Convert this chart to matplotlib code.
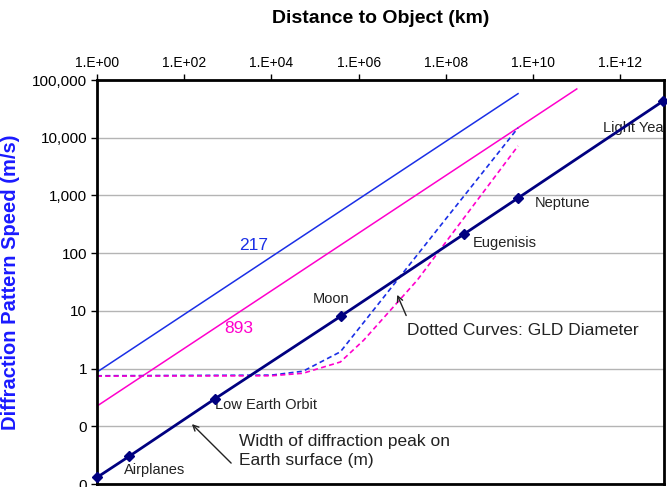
import numpy as np
import matplotlib.pyplot as plt

plt.rcParams['font.family'] = ['Liberation Sans', 'DejaVu Sans']

# distance to object (km) and width of the diffraction peak on earth (m)
objects = ['Start', 'Airplanes', 'Low Earth Orbit', 'Moon', 'Eugenisis', 'Neptune', 'Light Year']
obj_dist = [1, 5.4, 508, 3.9e5, 2.6e8, 4.5e9, 9.46e12]
obj_width = [0.013, 0.030, 0.30, 8.1, 214, 900, 43000]

# pattern speed for the two wavelengths
speed_217_x = [1, 4.5e9]
speed_217_y = [0.87, 58000]
speed_893_x = [1, 1.0e11]
speed_893_y = [0.224, 70000]

# GLD diameter curves
gld_217_x = [1, 1e4, 5.3e4, 3.8e5, 4.5e9]
gld_217_y = [0.75, 0.77, 0.9, 1.95, 14800]
gld_893_x = [1, 1e4, 5.3e4, 3.8e5, 1.3e6, 2.2e7, 4.5e9]
gld_893_y = [0.74, 0.75, 0.83, 1.3, 3.1, 34, 7200]

xticks = [1e0, 1e2, 1e4, 1e6, 1e8, 1e10, 1e12]
xtick_labels = ['1.E+00', '1.E+02', '1.E+04', '1.E+06', '1.E+08', '1.E+10', '1.E+12']
yticks = [0.01, 0.1, 1, 10, 100, 1000, 10000, 100000]
ytick_labels = ['0', '0', '1', '10', '100', '1,000', '10,000', '100,000']

blue = '#1a2fe6'
magenta = '#ff00cc'
navy = '#000080'

fig = plt.figure(figsize=(6.67, 4.87), dpi=100)
ax = fig.add_axes([97 / 667, 3 / 487, 567 / 667, 404 / 487])

ax.plot(speed_217_x, speed_217_y, color=blue, lw=1.1)
ax.plot(speed_893_x, speed_893_y, color=magenta, lw=1.1)
ax.plot(gld_217_x, gld_217_y, color=blue, lw=1.2, ls=(0, (3, 2)))
ax.plot(gld_893_x, gld_893_y, color=magenta, lw=1.2, ls=(0, (3, 2)))
ax.plot(obj_dist, obj_width, color=navy, lw=2, marker='D', ms=5, clip_on=False, zorder=5)

ax.set_xscale('log')
ax.set_yscale('log')
ax.set_xlim(1, 1e13)
ax.set_ylim(0.01, 100000)
ax.minorticks_off()

ax.xaxis.tick_top()
ax.set_xticks(xticks)
ax.set_xticklabels(xtick_labels, fontsize=10)
ax.set_yticks(yticks)
ax.set_yticklabels(ytick_labels, fontsize=11)
ax.tick_params(direction='out', length=4, width=1, pad=3)
ax.grid(axis='y', color='#b4b4b4', lw=1)
ax.set_axisbelow(True)
for s in ax.spines.values():
    s.set_linewidth(2)

ax.set_xlabel('Distance to Object (km)', fontsize=14, fontweight='bold', labelpad=24)
ax.xaxis.set_label_position('top')
ax.set_ylabel('Diffraction Pattern Speed (m/s)', fontsize=14.5, fontweight='bold',
              color='#1a1aff')
ax.yaxis.set_label_coords(-0.135, 0.5)

# point labels
lab = dict(fontsize=10.5, color='#222222', va='center')
ax.text(4.2, 0.0174, 'Airplanes', ha='left', **lab)
ax.text(510, 0.233, 'Low Earth Orbit', ha='left', **lab)
ax.text(2.3e5, 16, 'Moon', ha='center', **lab)
ax.text(4.2e8, 150, 'Eugenisis', ha='left', **lab)
ax.text(1.1e10, 740, 'Neptune', ha='left', **lab)
ax.text(4e11, 14700, 'Light Year', ha='left', clip_on=True, **lab)

ax.text(3800, 138, '217', color=blue, fontsize=12.5, ha='center', va='center')
ax.text(1800, 5.0, '893', color=magenta, fontsize=12.5, ha='center', va='center')

ax.annotate('', xy=(7.2e6, 21), xytext=(1.3e7, 7.5),
            arrowprops=dict(arrowstyle='->', color='#222222', lw=1))
ax.text(1.3e7, 4.6, 'Dotted Curves: GLD Diameter', fontsize=12.5, color='#222222',
        ha='left', va='center')

ax.annotate('', xy=(135, 0.118), xytext=(1320, 0.0213),
            arrowprops=dict(arrowstyle='->', color='#222222', lw=1))
ax.text(1820, 0.037, 'Width of diffraction peak on\nEarth surface (m)', fontsize=12.5,
        color='#222222', ha='left', va='center', linespacing=1.3)

fig.savefig('out.png', dpi=100)
